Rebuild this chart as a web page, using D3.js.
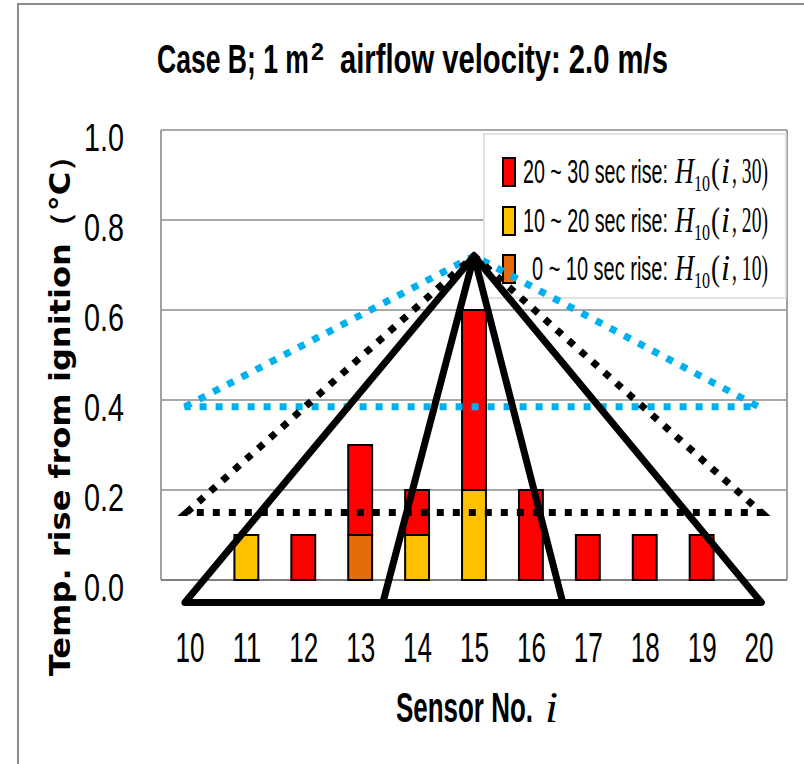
<!DOCTYPE html>
<html>
<head>
<meta charset="utf-8">
<script src="https://cdn.jsdelivr.net/npm/d3@7/dist/d3.min.js"></script>
<style>
  body { margin: 0; background: #fff; }
  text { font-family: "Liberation Sans Narrow", "Arial Narrow", "Liberation Sans", Arial, sans-serif; fill: #000; }
  .serif { font-family: "Liberation Serif", "DejaVu Serif", serif; }
</style>
</head>
<body>
<div id="vis"></div>
<script>
// sensor numbers on the x axis
const sensors = [10, 11, 12, 13, 14, 15, 16, 17, 18, 19, 20];
// stacked rise per time window (deg C)
const rise0to10  = [0, 0,   0,   0.1, 0,   0,   0,   0,   0,   0,   0];
const rise10to20 = [0, 0.1, 0,   0,   0.1, 0.2, 0,   0,   0,   0,   0];
const rise20to30 = [0, 0,   0.1, 0.2, 0.1, 0.4, 0.2, 0.1, 0.1, 0.1, 0];
const yTicks = [0, 0.2, 0.4, 0.6, 0.8, 1.0];

const legendLabels = ['20 ~ 30 sec rise:', '10 ~ 20 sec rise:', '0 ~ 10 sec rise:'];
const legendArgs = ['30', '20', '10'];

// hand-drawn outlines over the bars, as [sensor no., value]
const outerTriangle = [[9.92, -0.05], [15, 0.72], [20.05, -0.05]];
const innerTriangle = [[13.4, -0.05], [15, 0.72], [16.56, -0.05]];
const blackDotted   = [[9.95, 0.15], [15, 0.72], [20.05, 0.15]];
const blueDotted    = [[9.92, 0.385], [15, 0.72], [20.0, 0.385]];

const W = 804, H = 764;
const plot = {left: 161, right: 787, top: 130, bottom: 580};

const svg = d3.select('#vis').append('svg')
    .attr('width', W)
    .attr('height', H);

// the source picture is squeezed sideways: keep the glyph height from font-size,
// shrink the font until the text has the wanted width, then stretch it back up
function stretch(sel, width) {
    sel.each(function () {
        const t = d3.select(this);
        const fh = parseFloat(t.style('font-size'));
        const w0 = this.getComputedTextLength();
        const fw = fh * width / w0;
        const by = +t.attr('y') || 0;
        t.style('font-size', fw + 'px')
         .attr('transform', `translate(0,${by}) scale(1,${fh / fw}) translate(0,${-by})`);
    });
    return sel;
}

// outer frame of the picture
svg.append('rect')
    .attr('x', 18).attr('y', 4)
    .attr('width', 820).attr('height', 820)
    .attr('fill', 'none')
    .attr('stroke', '#8c8c8c')
    .attr('stroke-width', 2);

const x = d3.scalePoint()
    .domain(sensors)
    .range([plot.left, plot.right])
    .padding(0.5);
// continuous version of the same axis for the outlines
const xLin = d3.scaleLinear()
    .domain([sensors[0], sensors[sensors.length - 1]])
    .range([x(sensors[0]), x(sensors[sensors.length - 1])]);
const y = d3.scaleLinear()
    .domain([0, 1])
    .range([plot.bottom, plot.top]);

const barW = x.step() * 0.42;

// grid lines
svg.append('g')
    .selectAll('line')
    .data(yTicks.filter(d => d > 0))
    .enter()
    .append('line')
    .attr('x1', plot.left).attr('x2', plot.right)
    .attr('y1', d => y(d)).attr('y2', d => y(d))
    .attr('stroke', '#555')
    .attr('stroke-width', 1.2);

// plot frame (left/right) and base line
svg.append('line')
    .attr('x1', plot.left).attr('x2', plot.left)
    .attr('y1', plot.top).attr('y2', plot.bottom)
    .attr('stroke', '#a0a0a0').attr('stroke-width', 2);
svg.append('line')
    .attr('x1', plot.right).attr('x2', plot.right)
    .attr('y1', plot.top).attr('y2', plot.bottom)
    .attr('stroke', '#a0a0a0').attr('stroke-width', 2);
svg.append('line')
    .attr('x1', plot.left).attr('x2', plot.right)
    .attr('y1', plot.bottom).attr('y2', plot.bottom)
    .attr('stroke', '#7f7f7f').attr('stroke-width', 2);

// stacked bars
const table = sensors.map((s, i) => ({sensor: s, r0: rise0to10[i], r1: rise10to20[i], r2: rise20to30[i]}));
const keys = ['r0', 'r1', 'r2'];
const colors = {r0: '#E46C0A', r1: '#FFC000', r2: '#FF0000'};
const stacked = d3.stack().keys(keys)(table);

svg.append('g')
    .selectAll('g')
    .data(stacked)
    .enter()
    .append('g')
    .attr('fill', d => colors[d.key])
    .selectAll('rect')
    .data(d => d.filter(p => p[1] - p[0] > 0))
    .enter()
    .append('rect')
    .attr('x', d => x(d.data.sensor) - barW / 2)
    .attr('y', d => y(d[1]))
    .attr('width', barW)
    .attr('height', d => y(d[0]) - y(d[1]))
    .attr('stroke', '#000')
    .attr('stroke-width', 2);

// y axis
const gy = svg.append('g')
    .attr('transform', `translate(${plot.left},0)`)
    .call(d3.axisLeft(y).tickValues(yTicks).tickFormat(d3.format('.1f')).tickSize(0).tickPadding(37));
gy.select('.domain').remove();
stretch(gy.selectAll('text')
    .attr('y', 20)
    .attr('dy', 0)
    .style('font-size', '39px'), 40);

// x axis
const gx = svg.append('g')
    .attr('transform', `translate(0,${plot.bottom})`)
    .call(d3.axisBottom(x).tickSize(0));
gx.select('.domain').remove();
stretch(gx.selectAll('text')
    .attr('y', 82)
    .attr('dy', 0)
    .style('font-size', '42px'), 29);

// legend
const legend = svg.append('g');
legend.append('rect')
    .attr('x', 484).attr('y', 134)
    .attr('width', 302).attr('height', 164)
    .attr('fill', '#fff')
    .attr('stroke', '#d9d9d9')
    .attr('stroke-width', 1.5);

const legendKeys = ['r2', 'r1', 'r0'];
const rowY = [183, 232, 280];
legendKeys.forEach((k, i) => {
    const by = rowY[i];
    legend.append('rect')
        .attr('x', 503).attr('y', by - 25)
        .attr('width', 12).attr('height', 28)
        .attr('fill', colors[k])
        .attr('stroke', '#000')
        .attr('stroke-width', 2);
    const x0 = i === 2 ? 532 : 523;
    stretch(legend.append('text')
        .attr('x', x0).attr('y', by)
        .style('font-size', '34px')
        .text(legendLabels[i]), 668 - x0);
    stretch(legend.append('text')
        .attr('class', 'serif')
        .attr('x', 675).attr('y', by)
        .style('font-size', '36px')
        .style('font-style', 'italic')
        .text('H'), 19);
    stretch(legend.append('text')
        .attr('class', 'serif')
        .attr('x', 694).attr('y', by + 8)
        .style('font-size', '24px')
        .text('10'), 16);
    stretch(legend.append('text')
        .attr('class', 'serif')
        .attr('x', 711).attr('y', by)
        .style('font-size', '36px')
        .text('('), 9);
    stretch(legend.append('text')
        .attr('class', 'serif')
        .attr('x', 721).attr('y', by)
        .style('font-size', '36px')
        .style('font-style', 'italic')
        .text('i'), 9);
    stretch(legend.append('text')
        .attr('class', 'serif')
        .attr('x', 732).attr('y', by)
        .style('font-size', '36px')
        .text(', ' + legendArgs[i] + ')'), 36);
});

// outlines on top
const line = d3.line()
    .x(d => xLin(d[0]))
    .y(d => y(d[1]))
    .curve(d3.curveLinearClosed);

svg.append('path')
    .attr('d', line(blueDotted))
    .attr('fill', 'none')
    .attr('stroke', '#00B0F0')
    .attr('stroke-width', 7)
    .attr('stroke-dasharray', '7 9');
svg.append('path')
    .attr('d', line(blackDotted))
    .attr('fill', 'none')
    .attr('stroke', '#000')
    .attr('stroke-width', 7)
    .attr('stroke-dasharray', '7 9');
svg.append('path')
    .attr('d', line(outerTriangle))
    .attr('fill', 'none')
    .attr('stroke', '#000')
    .attr('stroke-width', 7)
    .attr('stroke-linejoin', 'round');
svg.append('path')
    .attr('d', line(innerTriangle))
    .attr('fill', 'none')
    .attr('stroke', '#000')
    .attr('stroke-width', 7)
    .attr('stroke-linejoin', 'round');

// title
stretch(svg.append('text')
    .attr('x', 157).attr('y', 73)
    .style('font-size', '40px').style('font-weight', 'bold')
    .text('Case B; 1 m'), 152);
stretch(svg.append('text')
    .attr('x', 311).attr('y', 60)
    .style('font-size', '24px').style('font-weight', 'bold')
    .text('2'), 13);
stretch(svg.append('text')
    .attr('x', 340).attr('y', 73)
    .style('font-size', '40px').style('font-weight', 'bold')
    .text('airflow velocity: 2.0 m/s'), 328);

// x axis label
stretch(svg.append('text')
    .attr('x', 396).attr('y', 722)
    .style('font-size', '42px').style('font-weight', 'bold')
    .text('Sensor No.'), 137);
stretch(svg.append('text')
    .attr('class', 'serif')
    .attr('x', 545).attr('y', 722)
    .style('font-size', '44px').style('font-style', 'italic')
    .text('i'), 13);

// y axis label
const yTitle = svg.append('g')
    .attr('transform', 'translate(70,408) rotate(-90)');
stretch(yTitle.append('text')
    .style('font-family', '"DejaVu Sans", sans-serif')
    .style('font-size', '28px').style('font-weight', 'bold')
    .style('text-anchor', 'middle')
    .text('Temp. rise from ignition（°C）'), 537);
</script>
</body>
</html>
